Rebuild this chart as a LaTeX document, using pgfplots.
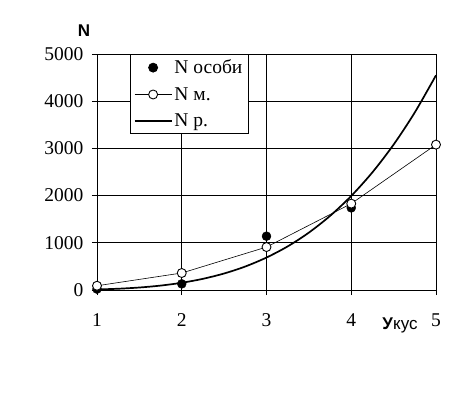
\documentclass[border=0pt]{standalone}
\usepackage{fontspec}
\setmainfont{Liberation Serif}
\newfontfamily\arial{Liberation Sans}
\usepackage{pgfplots}
\pgfplotsset{compat=1.18}
\begin{document}
\begin{tikzpicture}
\begin{axis}[
  at={(0,0)}, anchor=south west,
  scale only axis, width=339pt, height=236pt,
  xmin=1, xmax=5, ymin=0, ymax=5000,
  xtick={1,2,3,4,5}, ytick={0,1000,2000,3000,4000,5000},
  grid=major, grid style={black, line width=0.8pt},
  axis line style={black, line width=0.8pt},
  tick style={black, line width=0.8pt}, tick align=outside, major tick length=5pt,
  xtick pos=bottom, ytick pos=left,
  /pgf/number format/assume math mode=true,
  /pgf/number format/1000 sep={},
  ticklabel style={font=\fontsize{19.5}{21}\selectfont},
  xticklabel style={yshift=-15pt},
  yticklabel style={xshift=-5pt},
  xlabel={\arial\textbf{У}кус}, xlabel style={at={(rel axis cs:0.894,-0.148)}, anchor=center, font=\fontsize{17}{19}\selectfont},
  ylabel={\arial\textbf{N}}, ylabel style={at={(rel axis cs:-0.038,1.10)}, anchor=center, rotate=-90, font=\fontsize{17}{19}\selectfont},
  legend image code/.code={\draw[mark repeat=2,mark phase=2,#1] plot coordinates {(0cm,0cm) (0.65cm,0cm) (1.3cm,0cm)};},
  legend style={at={(0.097,1)}, anchor=north west, draw=black, line width=0.8pt, fill=white,
    font=\fontsize{19.5}{21}\selectfont, row sep=8pt, inner sep=3.5pt, cells={anchor=west}},
]
\addplot[only marks, mark=*, mark size=4.5pt, black] coordinates {(1,20) (2,130) (3,1140) (4,1740)};
\addlegendentry{N особи}
\addplot[black, line width=0.6pt, mark=*, mark size=4.5pt, mark options={fill=white, draw=black, line width=0.9pt}] coordinates {(1,90) (2,360) (3,910) (4,1830) (5,3080)};
\addlegendentry{N м.}
\addplot[black, line width=1.7pt, smooth] coordinates {
(1,11.8) (1.25,26.9) (1.5,52.9) (1.75,93.6) (2,153) (2.25,237) (2.5,350) (2.75,498) (3,688)
(3.25,924) (3.5,1216) (3.75,1570) (4,1993) (4.25,2494) (4.5,3081) (4.75,3763) (5,4549)};
\addlegendentry{N р.}
\end{axis}
\path[use as bounding box] (-97pt,-102pt) rectangle (371pt,290pt);
\end{tikzpicture}
\end{document}
